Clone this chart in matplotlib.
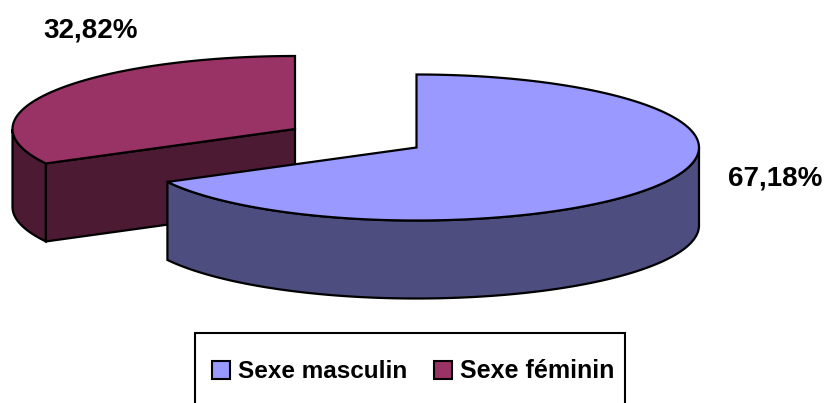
import numpy as np
import matplotlib
matplotlib.use("Agg")
import matplotlib.pyplot as plt
from matplotlib.patches import Polygon, Rectangle

categories = ["Sexe masculin", "Sexe féminin"]
values = [67.18, 32.82]
labels = ["67,18%", "32,82%"]
top_colors = ["#9999FF", "#993366"]
side_colors = ["#4D4D80", "#4D1A33"]

# pixel geometry of the exploded slices: centre x, centre y
centers = [(416.5, 147.5), (295, 129)]
rx, ry, depth = 282.5, 73, 78

plt.rcParams['font.family'] = ['Liberation Sans', 'DejaVu Sans']

fig = plt.figure(figsize=(8.27, 4.03), dpi=100)
ax = fig.add_axes([0, 0, 1, 1])
ax.set_xlim(0, 827)
ax.set_ylim(403, 0)
ax.axis('off')


def rim(cx, cy, a, b):
    t = np.radians(np.linspace(a, b, 200))
    return np.column_stack([cx + rx * np.sin(t), cy - ry * np.cos(t)])


def draw_slice(i, a, b):
    cx, cy = centers[i]
    z = 2 - i
    # outer wall, only the part of the rim facing the viewer
    lo, hi = max(a, 90), min(b, 270)
    if hi > lo:
        r = rim(cx, cy, lo, hi)
        wall = np.vstack([r, (r + [0, depth])[::-1]])
        ax.add_patch(Polygon(wall, fc=side_colors[i], ec='black', lw=1.6, zorder=z))
    # cut faces, kept only if they turn towards the viewer
    for ang, visible in ((a, np.sin(np.radians(a)) < -1e-9), (b, np.sin(np.radians(b)) > 1e-9)):
        if not visible:
            continue
        p = rim(cx, cy, ang, ang)[0]
        face = [(cx, cy), p, p + [0, depth], (cx, cy + depth)]
        ax.add_patch(Polygon(face, fc=side_colors[i], ec='black', lw=1.6, zorder=z))
    top = np.vstack([[(cx, cy)], rim(cx, cy, a, b)])
    ax.add_patch(Polygon(top, fc=top_colors[i], ec='black', lw=1.6, zorder=z))


ends = np.cumsum(values) / sum(values) * 360
draw_slice(1, ends[0], 360)
draw_slice(0, 0, ends[0])

ax.text(775, 178, labels[0], ha='center', va='center', fontsize=20, fontweight='bold', color='black')
ax.text(91, 30, labels[1], ha='center', va='center', fontsize=20, fontweight='bold', color='black')

# legend box runs off the bottom edge
ax.add_patch(Rectangle((195, 333), 430, 90, fc='white', ec='black', lw=1.5, zorder=5))
ax.add_patch(Rectangle((212, 361), 18, 18, fc=top_colors[0], ec='black', lw=1.5, zorder=6))
ax.add_patch(Rectangle((434, 361), 18, 18, fc=top_colors[1], ec='black', lw=1.5, zorder=6))
ax.text(238, 371, categories[0], ha='left', va='center', fontsize=17.5, fontweight='bold', zorder=6)
ax.text(460, 371, categories[1], ha='left', va='center', fontsize=18, fontweight='bold', zorder=6)

fig.savefig("out.png", dpi=100)
